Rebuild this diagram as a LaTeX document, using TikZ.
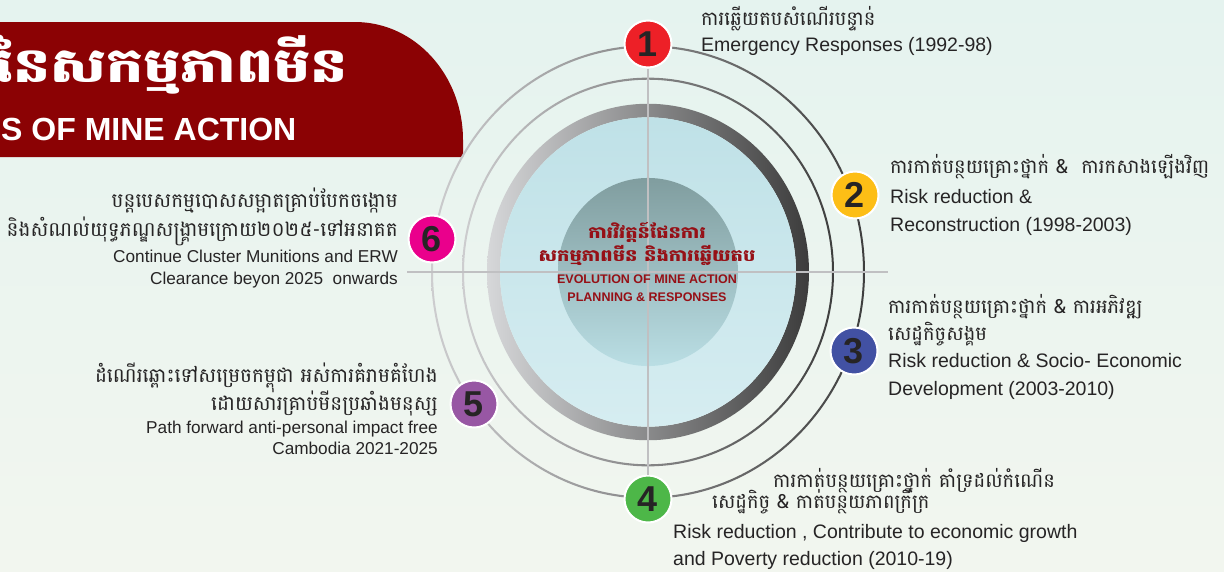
\documentclass[tikz,border=0pt]{standalone}
\usepackage{fontspec}
\setmainfont{Liberation Sans}
\newfontfamily\khmer[Script=Khmer]{Battambang}
\usetikzlibrary{calc}
\usetikzlibrary{positioning}

\definecolor{bgtop}{RGB}{229,243,239}
\definecolor{bgbot}{RGB}{242,246,239}
\definecolor{banred}{RGB}{139,2,4}
\definecolor{txtred}{RGB}{150,16,22}
\definecolor{txtdark}{RGB}{38,36,37}
\definecolor{crossgray}{RGB}{192,192,194}
\definecolor{ringlt}{RGB}{205,205,207}
\definecolor{ringdk}{RGB}{62,62,62}
\definecolor{thkl}{RGB}{214,215,217}
\definecolor{thkm}{RGB}{125,126,128}
\definecolor{thkr}{RGB}{60,60,60}
\definecolor{diskblue}{RGB}{191,225,231}
\definecolor{diskbluelt}{RGB}{214,237,241}
\definecolor{coretop}{RGB}{128,157,159}
\definecolor{corebot}{RGB}{186,222,228}
\definecolor{cred}{RGB}{237,32,39}
\definecolor{cyellow}{RGB}{253,190,22}
\definecolor{cblue}{RGB}{66,81,163}
\definecolor{cgreen}{RGB}{77,183,72}
\definecolor{cpurple}{RGB}{152,87,164}
\definecolor{cmagenta}{RGB}{234,0,140}

\newcommand\fs[1]{\fontsize{#1}{#1}\selectfont}
\newcommand\wide[2]{\scalebox{#1}[1]{#2}}

\begin{document}
\begin{tikzpicture}[x=1pt,y=-1pt,
  badge/.style={circle,draw=white,line width=2pt,minimum size=47pt,inner sep=0pt,
    font=\fs{36}\bfseries,text=txtdark},
  en/.style={inner sep=0pt,anchor=base west,font=\fs{19.5},text=txtdark},
  ensm/.style={en,anchor=base east,font=\fs{17.2}},
  kh/.style={inner sep=0pt,anchor=base west,text depth=4pt,font=\khmer\fs{19.5},text=txtdark},
  khr/.style={kh,anchor=base east,font=\khmer\fs{20}},
  ctrkh/.style={inner sep=0pt,anchor=base,text depth=3pt,font=\khmer\bfseries\fs{16.5},text=txtred},
  ctren/.style={inner sep=0pt,anchor=base,font=\bfseries\fs{12.5},text=txtred},
  cross/.style={draw=crossgray,line width=2pt}]
\useasboundingbox (0,0) rectangle (1224,571);
\clip (0,0) rectangle (1224,571);
\shade[top color=bgtop,bottom color=bgbot] (0,0) rectangle (1224,571);

% title banner
\fill[banred] (-5,22) -- (355,22) .. controls (415,22) and (463,75) .. (463,140)
  -- (463,157) -- (-5,157) -- cycle;
\node[inner sep=0pt,anchor=base east,text=white,font=\khmer\bfseries\fs{48}] (ttlkh) at (348,82) {\wide{1.22}{នៃសកម្មភាពមីន}};
\node[inner sep=0pt,anchor=base west,text=white,font=\bfseries\fs{32}] (ttlen) at (1,140) {S OF MINE ACTION};

% rings
\begin{scope}[shift={(648,272)},yscale=1.045]
\shade[left color=ringlt,right color=ringdk,even odd rule] (0,0) circle (217) (0,0) circle (215);
\shade[left color=ringlt,right color=ringdk,even odd rule] (0,0) circle (186) (0,0) circle (184);
\shade[left color=thkl,middle color=thkm,right color=thkr,even odd rule] (0,0) circle (161) (0,0) circle (148);
\shade[top color=diskblue,bottom color=diskbluelt] (0,0) circle (148);
\shade[top color=coretop,bottom color=corebot] (0,0) circle (90);
\end{scope}

% badges
\node[badge,fill=cred] (b1) at (648,44) {1};
\node[badge,fill=cyellow] (b2) at (855,195) {2};
\node[badge,fill=cblue] (b3) at (854,351) {3};
\node[badge,fill=cgreen] (b4) at (648,499) {4};
\node[badge,fill=cpurple] (b5) at (474,404) {5};
\node[badge,fill=cmagenta] (b6) at (432,239) {6};

% cross hair
\coordinate (hl) at (407,272);
\coordinate (hr) at (888,272);
\draw[cross] (b1) -- (b4);
\draw[cross] (hl) -- (hr);

% centre title
\node[ctrkh] (ck1) at (647,238) {\wide{1.18}{ការវិវត្តន៍ផែនការ}};
\node[ctrkh] (ck2) at ($(ck1.base)+(0,23)$) {\wide{1.18}{សកម្មភាពមីន និងការឆ្លើយតប}};
\node[ctren] (ce1) at ($(ck2.base)+(0,22)$) {EVOLUTION OF MINE ACTION};
\node[ctren] (ce2) at ($(ce1.base)+(0,18)$) {PLANNING \& RESPONSES};

% 1
\node[kh] (k1) at (701,25) {ការឆ្លើយតបសំណើរបន្ទាន់};
\node[en] (e1) at ($(k1.base west)+(0,26)$) {Emergency Responses (1992-98)};
% 2
\node[kh] (k2) at (890,173) {ការកាត់បន្ថយគ្រោះថ្នាក់ \& \ ការកសាងឡើងវិញ};
\node[en] (e2a) at ($(k2.base west)+(0,30)$) {Risk reduction \&};
\node[en] (e2b) at ($(e2a.base west)+(0,28)$) {Reconstruction (1998-2003)};
% 3
\node[kh] (k3a) at (888,313) {ការកាត់បន្ថយគ្រោះថ្នាក់ \& ការអភិវឌ្ឍ};
\node[kh] (k3b) at ($(k3a.base west)+(0,27)$) {សេដ្ឋកិច្ចសង្គម};
\node[en] (e3a) at ($(k3b.base west)+(0,27)$) {Risk reduction \& Socio- Economic};
\node[en] (e3b) at ($(e3a.base west)+(0,28)$) {Development (2003-2010)};
% 4
\node[kh] (k4a) at (773,487) {ការកាត់បន្ថយគ្រោះថ្នាក់ គាំទ្រដល់កំណើន};
\node[kh] (k4b) at (712,508) {សេដ្ឋកិច្ច \& កាត់បន្ថយភាពក្រីក្រ};
\node[en] (e4a) at (673,538) {Risk reduction , Contribute to economic growth};
\node[en] (e4b) at ($(e4a.base west)+(0,27)$) {and Poverty reduction (2010-19)};
% 5
\node[khr] (k5a) at (438,382) {ដំណើរឆ្ពោះទៅសម្រេចកម្ពុជា អស់ការគំរាមគំហែង};
\node[khr] (k5b) at ($(k5a.base east)+(0,28)$) {ដោយសារគ្រាប់មីនប្រឆាំងមនុស្ស};
\node[ensm] (e5a) at ($(k5b.base east)+(0,23)$) {Path forward anti-personal impact free};
\node[ensm] (e5b) at ($(e5a.base east)+(0,21)$) {Cambodia 2021-2025};
% 6
\node[khr] (k6a) at (398,207) {បន្តបេសកម្មបោសសម្អាតគ្រាប់បែកចង្កោម};
\node[khr] (k6b) at ($(k6a.base east)+(0,29)$) {និងសំណល់យុទ្ធភណ្ឌសង្គ្រាមក្រោយ២០២៥-ទៅអនាគត};
\node[ensm] (e6a) at ($(k6b.base east)+(0,26)$) {Continue Cluster Munitions and ERW};
\node[ensm] (e6b) at ($(e6a.base east)+(0,22)$) {Clearance beyon 2025 \ onwards};
\end{tikzpicture}
\end{document}
